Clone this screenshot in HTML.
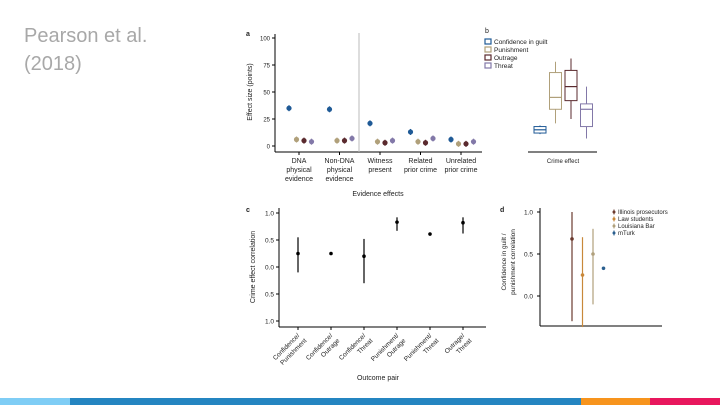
<!DOCTYPE html>
<html><head><meta charset="utf-8"><style>
body{margin:0;width:720px;height:405px;overflow:hidden;background:#fff;font-family:"Liberation Sans",sans-serif}
#title{position:absolute;left:24px;top:22px;font-size:20px;line-height:28px;color:#a8a8a8;font-weight:300}
svg{position:absolute;left:0;top:0}
text{font-family:"Liberation Sans",sans-serif;fill:#222}
</style></head><body>
<div id="title">Pearson et al.<br>(2018)</div>
<svg id="s" width="720" height="405">
<rect x="0" y="398" width="70" height="7" fill="#7fcdf5"/>
<rect x="70" y="398" width="511" height="7" fill="#2485c1"/>
<rect x="581" y="398" width="69" height="7" fill="#f7941d"/>
<rect x="650" y="398" width="70" height="7" fill="#e8175d"/>
</svg>
<script>
const groups=["DNA|physical|evidence","Non-DNA|physical|evidence","Witness|present","Related|prior crime","Unrelated|prior crime"];
const seriesNames=["Confidence in guilt","Punishment","Outrage","Threat"];
const confA=[35,34,21,13,6];
const punA=[6,5,4,4,2];
const outA=[5,5,3,3,2];
const thrA=[4,7,5,7,4];
const ticksA=[0,25,50,75,100];
// box stats [lowWhisker,q1,median,q3,highWhisker]
const boxConf=[11,12,15,18,19];
const boxPun=[21,34,45,68,78];
const boxOut=[25,42,55,70,81];
const boxThr=[7,18,34,39,55];
const pairs=["Confidence/|Punishment","Confidence/|Outrage","Confidence/|Threat","Punishment/|Outrage","Punishment/|Threat","Outrage/|Threat"];
const corrC=[0.25,0.25,0.2,0.83,0.61,0.82];
const loC=[-0.1,0.25,-0.3,0.67,0.61,0.62];
const hiC=[0.55,0.25,0.52,0.92,0.61,0.92];
const ticksC=[1.0,0.5,0.0,-0.5,-1.0];
const tickLabC=["1.0","0.5","0.0","0.5","1.0"];
const samples=["Illinois prosecutors","Law students","Louisiana Bar","mTurk"];
const corrD=[0.68,0.25,0.5,0.33];
const loD=[-0.3,-0.37,-0.1,0.33];
const hiD=[1.0,0.7,0.8,0.33];
const ticksD=[1.0,0.5,0.0];
const cols=["#1f5a96","#b0a07a","#5a2a2e","#8278a8"];
const colD=["#6b3a2e","#c8883a","#b0a07c","#2a5f8f"];
const S=document.getElementById('s');const NS="http://www.w3.org/2000/svg";
function el(t,a,txt){const e=document.createElementNS(NS,t);for(const k in a)e.setAttribute(k,a[k]);if(txt!==undefined)e.textContent=txt;S.appendChild(e);return e;}
function tx(x,y,s,sz,anc,name,extra){const e=el('text',Object.assign({x:x,y:y,'font-size':sz,'text-anchor':anc||'start'},extra||{}),s);return e;}
function ln(x1,y1,x2,y2,c,w,name){const e=el('line',{x1,y1,x2,y2,stroke:c,'stroke-width':w});return e;}
// Panel a
const yA=v=>146-1.08*v;const gx=i=>299+i*40.5;
tx(246,36,"a",7,'start','panel-a-label',{'font-weight':'bold'});
ln(275,34,275,152,'#000',1,'a-y-axis');ln(275,152,482,152,'#000',1,'a-x-axis');
ln(359,33,359,152,'#bbb',1,'a-divider');
ticksA.forEach(t=>{ln(272,yA(t),275,yA(t),'#000',1,'a-tick');tx(270,yA(t)+2.5,String(t),6,'end','a-tick-label');});
tx(0,0,"Effect size (points)",7,'middle','a-y-title',{transform:"translate(252,92) rotate(-90)"});
groups.forEach((g,i)=>{g.split('|').forEach((l,j)=>tx(gx(i),163+j*9,l,7,'middle','a-x-label'));ln(gx(i),152,gx(i),155,'#000',1,'a-x-tick');});
tx(378,196,"Evidence effects",7,'middle','a-x-title');
[confA,punA,outA,thrA].forEach((arr,s)=>arr.forEach((v,i)=>{const x=gx(i)-10+s*7.5;ln(x,yA(v)-3,x,yA(v)+3,cols[s],1.2,'a-errorbar');const c=el('circle',{cx:x,cy:yA(v),r:2.6,fill:cols[s]});}));
// Panel b
tx(485,33,"b",7,'start','panel-b-label');
seriesNames.forEach((n,i)=>{const y=42+i*8;const r=el('rect',{x:485,y:y-3,width:6,height:5,fill:'none',stroke:cols[i],'stroke-width':1.2});tx(494,y+2,n,6.5,'start','b-legend-entry');});
ln(528,152,597,152,'#000',1,'b-x-axis');tx(563,163,"Crime effect",6,'middle','b-x-title');
[boxConf,boxPun,boxOut,boxThr].forEach((b,i)=>{const x=540+i*15.5,w=12;ln(x,yA(b[0]),x,yA(b[1]),cols[i],1,'b-whisker');ln(x,yA(b[3]),x,yA(b[4]),cols[i],1,'b-whisker');const r=el('rect',{x:x-w/2,y:yA(b[3]),width:w,height:yA(b[1])-yA(b[3]),fill:'#fff',stroke:cols[i],'stroke-width':1});ln(x-w/2,yA(b[2]),x+w/2,yA(b[2]),cols[i],1.2,'b-median');});
// Panel c
const yC=v=>267-54*v;const cx=i=>298+i*33;
tx(246,212,"c",7,'start','panel-c-label',{'font-weight':'bold'});
ln(279,208,279,327,'#000',1,'c-y-axis');ln(279,327,486,327,'#000',1,'c-x-axis');
ticksC.forEach((t,i)=>{ln(276,yC(t),279,yC(t),'#000',1,'c-tick');tx(274,yC(t)+2.5,tickLabC[i],6.5,'end','c-tick-label');});
tx(0,0,"Crime effect correlation",7,'middle','c-y-title',{transform:"translate(255,267) rotate(-90)"});
pairs.forEach((p,i)=>{ln(cx(i),327,cx(i),330,'#000',1,'c-x-tick');p.split('|').forEach((l,j)=>tx(0,0,l,6.5,'end','c-x-label',{transform:`translate(${cx(i)+2+j*7},${336+j*5}) rotate(-45)`}));
ln(cx(i),yC(loC[i]),cx(i),yC(hiC[i]),'#000',1.2,'c-errorbar');const c=el('circle',{cx:cx(i),cy:yC(corrC[i]),r:1.8,fill:'#000'});});
tx(378,380,"Outcome pair",7,'middle','c-x-title');
// Panel d
const yD=v=>296-84*v;const dx=i=>572+i*10.5;
tx(500,212,"d",7,'start','panel-d-label',{'font-weight':'bold'});
ln(540,208,540,326,'#000',1,'d-y-axis');ln(540,326,662,326,'#000',1,'d-x-axis');
ticksD.forEach(t=>{ln(537,yD(t),540,yD(t),'#000',1,'d-tick');tx(533,yD(t)+2.5,t.toFixed(1),6.5,'end','d-tick-label');});
tx(0,0,"Confidence in guilt /",6.5,'middle','d-y-title',{transform:"translate(506,262) rotate(-90)"});
tx(0,0,"punishment correlation",6.5,'middle','d-y-title-2',{transform:"translate(515,262) rotate(-90)"});
samples.forEach((n,i)=>{const y=212+i*7;ln(614,y-2.5,614,y+2.5,colD[i],1,'d-legend-key');const c=el('circle',{cx:614,cy:y,r:1.5,fill:colD[i]});tx(618,y+2,n,6,'start','d-legend-entry');
ln(dx(i),yD(loD[i]),dx(i),yD(hiD[i]),colD[i],1.2,'d-errorbar');const p=el('circle',{cx:dx(i),cy:yD(corrD[i]),r:1.8,fill:colD[i]});});
</script>
</body></html>
